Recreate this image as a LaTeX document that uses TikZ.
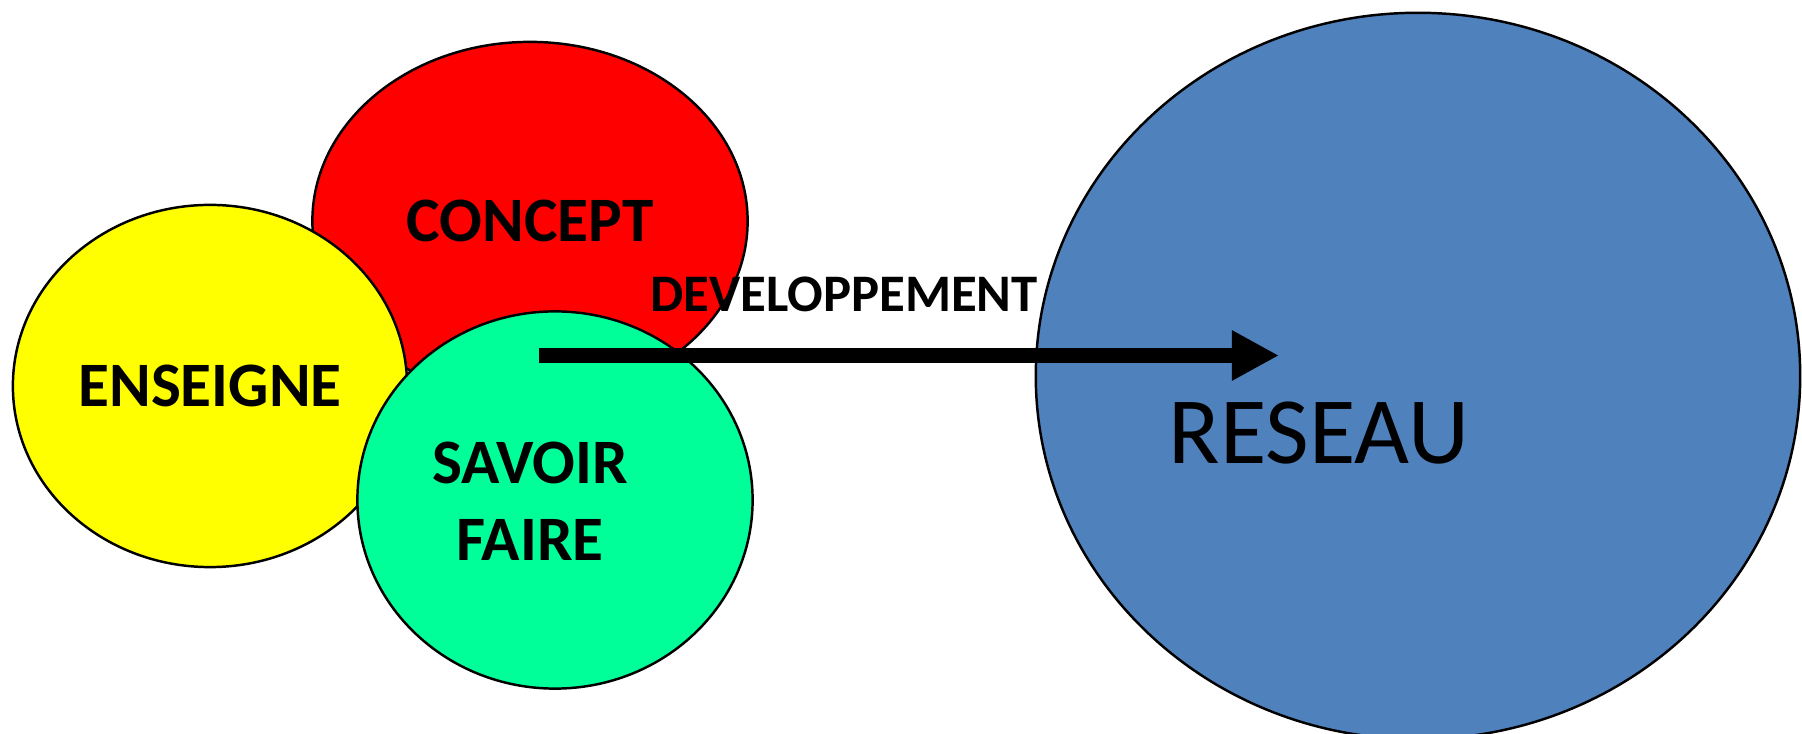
\documentclass[tikz,border=0pt]{standalone}
\usepackage{fontspec}
\setmainfont{Carlito}
\usetikzlibrary{shapes.geometric,arrows.meta}

\definecolor{conceptred}{HTML}{FF0000}
\definecolor{enseigneyellow}{HTML}{FFFF00}
\definecolor{savoirgreen}{HTML}{00FF99}
\definecolor{reseaublue}{HTML}{4F81BD}

\begin{document}
\begin{tikzpicture}[
    x=0.01cm, y=-0.01cm,
    bubble/.style={ellipse, draw=black, line width=0.7pt, inner sep=0pt},
    keyword/.style={font=\fontsize{18}{22}\selectfont\bfseries, align=center, text=black},
    arrow/.style={-{Triangle[length=0.47cm, width=0.47cm]}, line width=0.15cm},
    label/.style={font=\fontsize{15}{18}\selectfont\bfseries}
]

\useasboundingbox (0,0) rectangle (1802,734);

% Overlapping domains
\node[bubble, keyword, fill=conceptred, minimum width=4.35cm, minimum height=3.58cm] (concept) at (530,221) {CONCEPT};
\node[bubble, keyword, fill=enseigneyellow, minimum width=3.94cm, minimum height=3.62cm] (enseigne) at (210,386) {ENSEIGNE};
\node[bubble, fill=savoirgreen, minimum width=3.95cm, minimum height=3.77cm] (savoir) at (555,500) {};
\node[keyword] (savoir_text) at (530,501) {SAVOIR\\FAIRE};

% Network
\node[bubble, fill=reseaublue, minimum width=7.64cm, minimum height=7.26cm] (reseau) at (1418,376) {};
\node[font=\fontsize{27}{32}\selectfont] (reseau_text) at (1319,433) {RESEAU};

% Development arrow
\coordinate (dev_start) at (539,355.5);
\coordinate (dev_end) at (1279,355.5);
\draw[arrow] (dev_start) -- (dev_end);
\node[label] (dev_label) at (844,294) {DEVELOPPEMENT};

\end{tikzpicture}
\end{document}
